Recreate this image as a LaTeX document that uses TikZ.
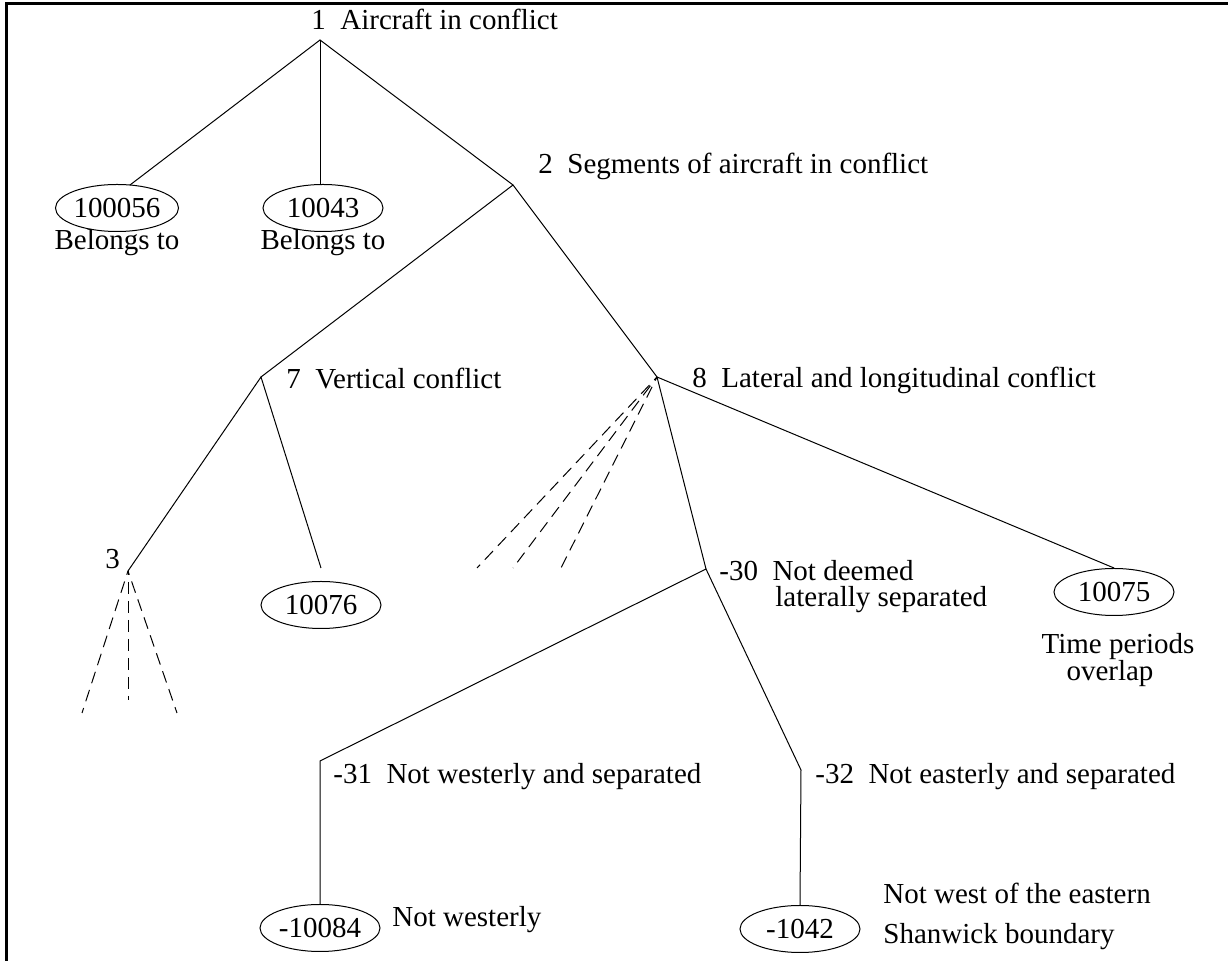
\documentclass[tikz,border=0pt]{standalone}
\usepackage{fontspec}
\setmainfont{Liberation Serif}
\usetikzlibrary{shapes.geometric}

\begin{document}
\begin{tikzpicture}[x=0.5pt, y=-0.5pt, font=\fontsize{14.5}{17}\selectfont,
		leaf/.style={draw, ellipse, line width=0.5pt, inner sep=0pt, minimum width=60pt, minimum height=23.5pt},
		lbl/.style={anchor=base west, inner sep=0pt},
		note/.style={anchor=base, inner sep=0pt},
		branch/.style={line width=0.5pt},
		open/.style={line width=0.5pt, dash pattern=on 6pt off 3.5pt, dash phase=4pt}]
		\useasboundingbox (0,0) rectangle (1228,961);
		\draw[line width=1.5pt] (6.5,961) -- (6.5,3.5) -- (1228,3.5);
	
		% branching points
		\coordinate (n1) at (320,40);
		\coordinate (n2) at (513,185);
		\coordinate (n7) at (261,377);
		\coordinate (n8) at (657,377);
		\coordinate (n3) at (128,571);
		\coordinate (n30) at (706,569);
		\coordinate (n31) at (320,761);
		\coordinate (n32) at (801,770);
	
		% labels of the branching points
		\node[lbl] (t1) at (311,30) {1\ \ Aircraft in conflict};
		\node[lbl] (t2) at (538,174) {2\ \ Segments of aircraft in conflict};
		\node[lbl] (t7) at (286,389) {7\ \ Vertical conflict};
		\node[lbl] (t8) at (692,388) {8\ \ Lateral and longitudinal conflict};
		\node[lbl] (t3) at (105,569) {3};
		\node[lbl] (t30) at (719,581) {-30\ \ Not deemed};
		\node[lbl] (t30b) at (775,607) {laterally separated};
		\node[lbl] (t31) at (333,784) {-31\ \ Not westerly and separated};
		\node[lbl] (t32) at (815,784) {-32\ \ Not easterly and separated};
	
		% leaves
		\node[leaf] (e100056) at (117,208) {100056};
		\node[leaf] (e10043) at (323,208) {10043};
		\node[leaf] (e10076) at (321,605) {10076};
		\node[leaf] (e10075) at (1114,592) {10075};
		\node[leaf] (e10084) at (320,928) {-10084};
		\node[leaf] (e1042) at (800,929) {-1042};
		\coordinate (a100056) at (130,185);
		\coordinate (a10043) at (320,185);
		\coordinate (a10076) at (321,568);
	
		\node[note] (b1) at (117,250) {Belongs to};
		\node[note] (b2) at (323,250) {Belongs to};
		\node[note] (p1) at (1118,654) {Time periods};
		\node[note] (p2) at (1110,681) {overlap};
		\node[lbl] (w1) at (392,927) {Not westerly};
		\node[lbl] (s1) at (883,904) {Not west of the eastern};
		\node[lbl] (s2) at (883,944) {Shanwick boundary};
	
		% tree
		\draw[branch] (a100056) -- (n1) -- (n2);
		\draw[branch] (n1) -- (a10043);
		\draw[branch] (n7) -- (n2) -- (n8);
		\draw[branch] (n3) -- (n7) -- (a10076);
		\draw[branch] (n30) -- (n8) -- (e10075.north);
		\draw[branch] (e10084.north) -- (n31) -- (n30) -- (n32) -- (e1042.north);
	
		% subtrees not shown
		\foreach \x/\y [count=\i] in {82/713, 128/700, 177/713} {
			\coordinate (f3-\i) at (\x,\y);
			\draw[open] (n3) -- (f3-\i);
		}
		\foreach \x/\y [count=\i] in {477/568, 513/568, 561/568} {
			\coordinate (f8-\i) at (\x,\y);
			\draw[open] (n8) -- (f8-\i);
		}
	\end{tikzpicture}
\end{document}
